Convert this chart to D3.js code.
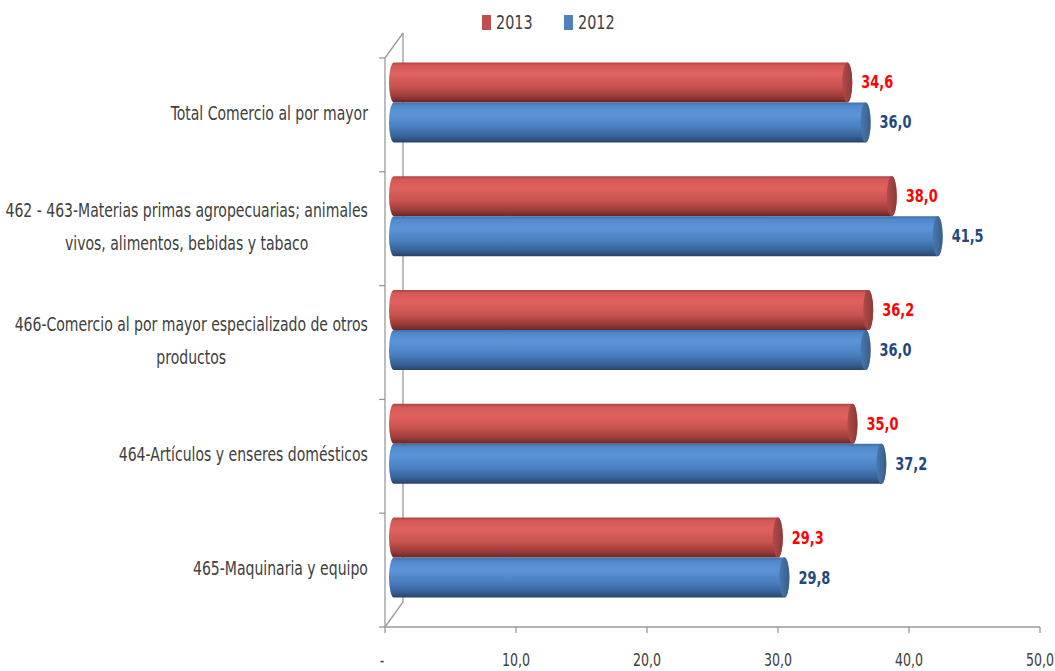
<!DOCTYPE html>
<html>
<head>
  <meta charset="utf-8">
  <title>Comercio al por mayor 2012 - 2013</title>
  <style>
    body { margin: 0; background: #fff; }
    text { font-family: "DejaVu Sans Condensed", "Open Sans", sans-serif; }
  </style>
</head>
<body>
  <script src="https://d3js.org/d3.v7.min.js"></script>
  <script type="text/javascript">

var categories = [
  "Total Comercio al por mayor",
  "462 - 463-Materias primas agropecuarias; animales|vivos, alimentos, bebidas y tabaco",
  "466-Comercio al por mayor especializado de otros|productos",
  "464-Artículos y enseres domésticos",
  "465-Maquinaria y equipo"
];
var seriesNames = ["2013", "2012"];
var values2013 = [34.6, 38.0, 36.2, 35.0, 29.3];
var values2012 = [36.0, 41.5, 36.0, 37.2, 29.8];
var xTicks = [0, 10, 20, 30, 40, 50];

var width = 1055, height = 671,
    depthX = 18, depthY = -25,   // 3d wall offset
    squeeze = 0.8;               // narrow the font horizontally (no Calibri here)

var svg = d3.select("body")
    .append("svg")
    .attr("width", width)
    .attr("height", height);

var x = d3.scaleLinear().domain([0, 50]).range([385, 1040]);
var y = d3.scaleBand().domain(categories).range([58, 627]);
var ySeries = d3.scaleBand().domain(seriesNames).range([0, 80]);
var color = { "2013": "#c0504d", "2012": "#4f81bd" };
var labelColor = { "2013": "#ff0000", "2012": "#1f497d" };

var comma = function(v) { return v === 0 ? "-" : d3.format(".1f")(v).replace(".", ","); };

// place a text at (px,py) squeezed horizontally
function at(px, py) { return "translate(" + px + "," + py + ") scale(" + squeeze + ",1)"; }

// gradients for cylinder look
var defs = svg.append("defs");
var grads = {
  "2013": [["0", "#a94542"], ["0.08", "#d35a57"], ["0.3", "#e0625f"], ["0.6", "#c95350"], ["0.85", "#9a3c3a"], ["1", "#6a2725"]],
  "2012": [["0", "#3f6ea8"], ["0.08", "#5188ca"], ["0.3", "#5b95d9"], ["0.6", "#4a80c1"], ["0.85", "#376298"], ["1", "#27446b"]]
};
seriesNames.forEach(function(s) {
  var g = defs.append("linearGradient").attr("id", "g" + s)
      .attr("x1", 0).attr("y1", 0).attr("x2", 0).attr("y2", 1);
  grads[s].forEach(function(st) {
    g.append("stop").attr("offset", st[0]).attr("stop-color", st[1]);
  });
  var c = defs.append("linearGradient").attr("id", "c" + s)
      .attr("x1", 0).attr("y1", 0).attr("x2", 1).attr("y2", 0);
  c.append("stop").attr("offset", "0").attr("stop-color", d3.color(color[s]).darker(0.2));
  c.append("stop").attr("offset", "1").attr("stop-color", d3.color(color[s]).darker(0.9));
});

// walls / axes
var axisColor = "#9a9a9a";
var x0 = x(0), yTop = y.range()[0], yBot = y.range()[1];
var lines = [
  [x0 + depthX, yTop + depthY, x0 + depthX, yBot + depthY],
  [x0 + depthX, yTop + depthY, x0, yTop],
  [x0, yBot, x0 + depthX, yBot + depthY],
  [x0, yTop, x0, yBot],
  [x0, yBot, x(50), yBot]
];
svg.selectAll(".wall").data(lines).enter().append("line")
    .attr("x1", function(d) { return d[0]; }).attr("y1", function(d) { return d[1]; })
    .attr("x2", function(d) { return d[2]; }).attr("y2", function(d) { return d[3]; })
    .style("stroke", axisColor).style("stroke-width", 1.3);

// category ticks
var catTicks = categories.map(function(c) { return y(c); }).concat([yBot]);
svg.selectAll(".ctick").data(catTicks).enter().append("line")
    .attr("x1", x0 - 6).attr("x2", x0)
    .attr("y1", function(d) { return d; }).attr("y2", function(d) { return d; })
    .style("stroke", axisColor).style("stroke-width", 1.3);

// value ticks
svg.selectAll(".xtick").data(xTicks).enter().append("line")
    .attr("x1", function(d) { return x(d); }).attr("x2", function(d) { return x(d); })
    .attr("y1", yBot).attr("y2", yBot + 6)
    .style("stroke", axisColor).style("stroke-width", 1.3);

svg.selectAll(".xlabel").data(xTicks).enter().append("text")
    .attr("transform", function(d) { return at(d === 0 ? x(d) - 3 : x(d), 666); })
    .attr("text-anchor", "middle")
    .style("font-size", "17.5px")
    .style("fill", "#404040")
    .text(comma);

// bars
var rows = [];
categories.forEach(function(c, i) {
  rows.push({ cat: c, s: "2013", v: values2013[i] });
  rows.push({ cat: c, s: "2012", v: values2012[i] });
});

var bx = depthX / 2, by = depthY / 2;
var bh = ySeries.bandwidth();
var pad = (y.bandwidth() - 80) / 2;

var bars = svg.selectAll(".bar").data(rows).enter().append("g")
    .attr("transform", function(d) {
      return "translate(0," + (y(d.cat) + pad + by + ySeries(d.s)) + ")";
    });

bars.append("path")
    .attr("d", function(d) {
      var l = x(0) + bx, r = x(d.v) + bx, rx = 5, ry = bh / 2;
      return "M" + r + ",0 L" + l + ",0 A" + rx + "," + ry + " 0 0 0 " + l + "," + bh +
             " L" + r + "," + bh + " A" + rx + "," + ry + " 0 0 0 " + r + ",0 Z";
    })
    .style("fill", function(d) { return "url(#g" + d.s + ")"; });

bars.append("ellipse")
    .attr("cx", function(d) { return x(d.v) + bx; })
    .attr("cy", bh / 2)
    .attr("rx", 5).attr("ry", bh / 2)
    .style("fill", function(d) { return "url(#c" + d.s + ")"; });

bars.append("text")
    .attr("transform", function(d) { return at(x(d.v) + bx + 14, bh / 2 + 6); })
    .style("font-size", "18px")
    .style("font-weight", "bold")
    .style("fill", function(d) { return labelColor[d.s]; })
    .text(function(d) { return comma(d.v); });

// category labels, centred block right-aligned at the axis
var labelRight = 368;
categories.forEach(function(c) {
  var parts = c.split("|");
  var g = svg.append("g");
  var t = g.selectAll("text").data(parts).enter().append("text")
      .style("font-size", "19.5px")
      .style("fill", "#404040")
      .attr("text-anchor", "middle")
      .text(function(d) { return d; });
  var maxW = 0;
  t.each(function() { maxW = Math.max(maxW, this.getComputedTextLength() * squeeze); });
  var cy = y(c) + y.bandwidth() / 2 - 2;
  var lh = 33;
  t.attr("transform", function(d, i) {
    return at(labelRight - maxW / 2, cy + (i - (parts.length - 1) / 2) * lh + 7);
  });
});

// legend
var legend = svg.selectAll(".legend").data(seriesNames).enter().append("g")
    .attr("transform", function(d, i) { return "translate(" + (482 + i * 82) + ",15)"; });
legend.append("rect").attr("width", 9).attr("height", 15)
    .style("fill", function(d) { return color[d]; });
legend.append("text").attr("transform", at(14, 14))
    .style("font-size", "20px").style("fill", "#404040")
    .text(function(d) { return d; });

  </script>
</body>
</html>
